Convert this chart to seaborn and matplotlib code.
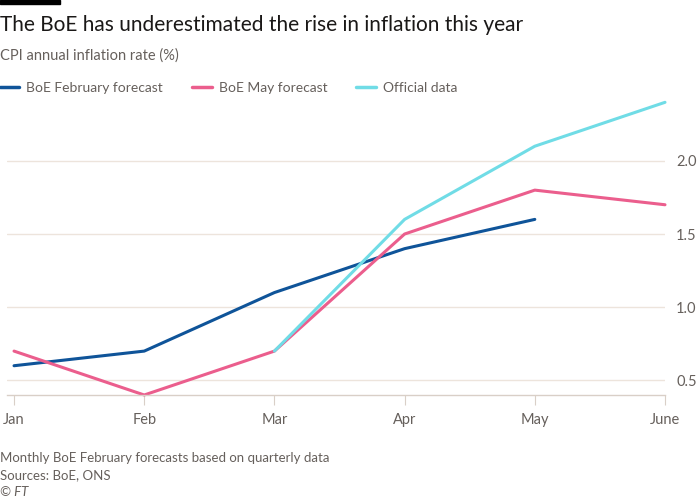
import numpy as np
import pandas as pd
import matplotlib
matplotlib.use("Agg")
import matplotlib.pyplot as plt
import seaborn as sns

months = ["Jan", "Feb", "Mar", "Apr", "May", "June"]
feb_forecast = [0.6, 0.7, 1.1, 1.4, 1.6, np.nan]
may_forecast = [0.7, 0.4, 0.7, 1.5, 1.8, 1.7]
official = [np.nan, np.nan, 0.7, 1.6, 2.1, 2.4]
series_names = ["BoE February forecast", "BoE May forecast", "Official data"]
colors = ["#0f5499", "#eb5e8d", "#70dce6"]
y_ticks = [0.5, 1.0, 1.5, 2.0]

sns.set_theme(style="white")
plt.rcParams["font.family"] = ["Lato", "DejaVu Sans"]

text_col = "#66605c"
grid_col = "#ede4dc"

# long form
rows = []
for name, vals in zip(series_names, [feb_forecast, may_forecast, official]):
    for i, v in enumerate(vals):
        if not np.isnan(v):
            rows.append({"month": i, "value": v, "series": name})
df = pd.DataFrame(rows)

fig = plt.figure(figsize=(7, 5), dpi=100, facecolor="white")
ax = fig.add_axes([0.01, 0.21, 0.94, 0.60])

sns.lineplot(data=df, x="month", y="value", hue="series", hue_order=series_names,
             palette=colors, linewidth=2.2, ax=ax, legend=False, clip_on=False)

ax.set_xlim(-0.054, 5)
ax.set_ylim(0.4, 2.45)
ax.set_xticks(range(len(months)))
ax.set_xticklabels(months)
ax.set_yticks(y_ticks)
ax.set_yticklabels([f"{t:.1f}" for t in y_ticks])
ax.yaxis.tick_right()
ax.tick_params(axis="y", length=0, pad=8, labelsize=10.5, labelcolor=text_col)
ax.tick_params(axis="x", length=7, width=0.8, color="#d9cfc7", pad=6,
               labelsize=10.5, labelcolor=text_col, bottom=True)
ax.set_xlabel("")
ax.set_ylabel("")
for s in ["top", "right", "left"]:
    ax.spines[s].set_visible(False)
ax.spines["bottom"].set_color("#d9cfc7")
ax.spines["bottom"].set_linewidth(1)
ax.yaxis.grid(True, color=grid_col, linewidth=1)
ax.set_axisbelow(True)

# legend
handles = [plt.Line2D([], [], color=c, linewidth=2.5) for c in colors]
fig.legend(handles, series_names, loc="center left", bbox_to_anchor=(0.0, 0.824),
           ncol=3, frameon=False, handlelength=1.4, handletextpad=0.5,
           columnspacing=2.1, fontsize=10, labelcolor=text_col, borderpad=0,
           borderaxespad=0)

# titles
fig.patches.append(plt.Rectangle((0, 0.992), 0.086, 0.008, transform=fig.transFigure,
                                 color="black"))
fig.text(0.0, 0.95, "The BoE has underestimated the rise in inflation this year",
         fontsize=15, color="#1a1817", va="center")
fig.text(0.0, 0.888, "CPI annual inflation rate (%)", fontsize=10.5, color=text_col, va="center")

fig.text(0.0, 0.083, "Monthly BoE February forecasts based on quarterly data",
         fontsize=9.5, color=text_col, va="center")
fig.text(0.0, 0.05, "Sources: BoE, ONS", fontsize=9.5, color=text_col, va="center")
fig.text(0.0, 0.016, "© FT", fontsize=9.5, color=text_col, va="center", style="italic")

fig.savefig("out.png", dpi=100, facecolor="white")
